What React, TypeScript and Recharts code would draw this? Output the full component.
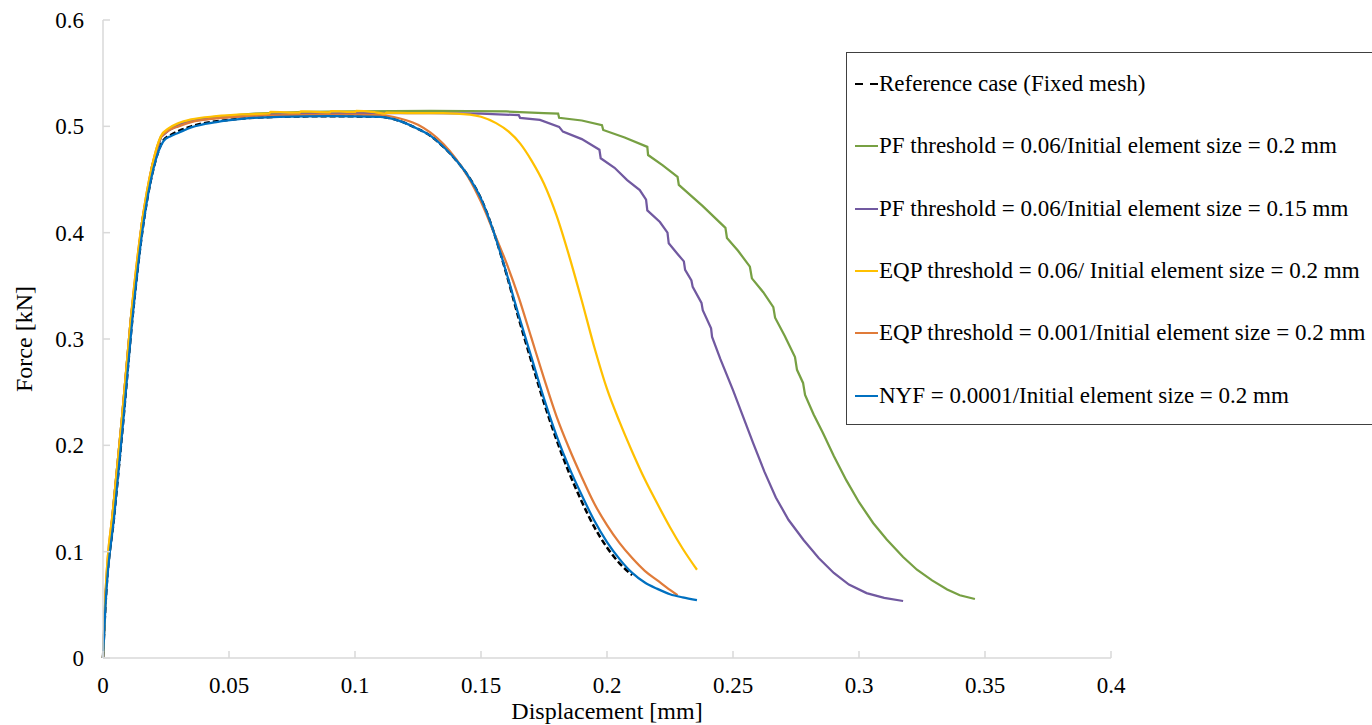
import { LineChart, Line, XAxis, YAxis, Legend } from 'recharts';

// [displacement mm, force kN]
const refFixed: [number, number][] = [
  [0, 0], [0.001, 0.05], [0.0045, 0.135], [0.008, 0.222], [0.0115, 0.315], [0.016, 0.408],
  [0.02, 0.46], [0.024, 0.487], [0.027, 0.492], [0.035, 0.5], [0.05, 0.506], [0.07, 0.509],
  [0.09, 0.5095], [0.11, 0.509], [0.115, 0.507], [0.12, 0.503], [0.125, 0.4975], [0.13, 0.491],
  [0.135, 0.481], [0.14, 0.4685], [0.145, 0.453], [0.15, 0.432], [0.155, 0.401], [0.16, 0.362],
  [0.165, 0.319], [0.17, 0.279], [0.175, 0.24], [0.18, 0.205], [0.185, 0.174], [0.19, 0.147],
  [0.195, 0.123], [0.2, 0.104], [0.205, 0.089], [0.21, 0.078],
];

const pf02: [number, number][] = [
  [0, 0], [0.0005, 0.03], [0.001, 0.06], [0.004, 0.14], [0.0075, 0.225], [0.011, 0.318],
  [0.0155, 0.41], [0.0195, 0.463], [0.023, 0.49], [0.026, 0.497], [0.03, 0.502], [0.035, 0.5055],
  [0.045, 0.509], [0.06, 0.512], [0.08, 0.5135], [0.1, 0.514], [0.13, 0.5145], [0.16, 0.514],
  [0.175, 0.5125], [0.1806, 0.512], [0.181, 0.508], [0.19, 0.5055], [0.198, 0.501], [0.1985, 0.4966],
  [0.207, 0.4895], [0.216, 0.4807], [0.2163, 0.473], [0.222, 0.4635], [0.228, 0.4525], [0.2285, 0.445],
  [0.238, 0.425], [0.247, 0.4045], [0.2476, 0.395], [0.252, 0.383], [0.2567, 0.368], [0.2575, 0.357],
  [0.262, 0.344], [0.266, 0.33], [0.2667, 0.32], [0.2705, 0.303], [0.2746, 0.283], [0.2754, 0.271],
  [0.2778, 0.2587], [0.2786, 0.2474], [0.282, 0.229], [0.2857, 0.2116], [0.29, 0.19], [0.295, 0.167],
  [0.3, 0.1465], [0.3056, 0.127], [0.311, 0.1115], [0.3175, 0.095], [0.323, 0.083], [0.329, 0.073],
  [0.335, 0.0645], [0.34, 0.059], [0.346, 0.0555],
];

const pf015: [number, number][] = [
  [0, 0], [0.0005, 0.03], [0.001, 0.06], [0.004, 0.14], [0.0075, 0.225], [0.011, 0.318],
  [0.0155, 0.41], [0.0195, 0.463], [0.023, 0.49], [0.026, 0.496], [0.03, 0.501], [0.035, 0.505],
  [0.045, 0.508], [0.065, 0.511], [0.1, 0.5125], [0.13, 0.5125], [0.15, 0.512], [0.165, 0.5105],
  [0.1655, 0.508], [0.1734, 0.506], [0.181, 0.4995], [0.1825, 0.495], [0.19, 0.488], [0.197, 0.478],
  [0.1975, 0.47], [0.203, 0.461], [0.208, 0.4495], [0.213, 0.44], [0.2155, 0.431], [0.216, 0.421],
  [0.221, 0.41], [0.224, 0.4], [0.2245, 0.39], [0.228, 0.38], [0.2305, 0.373], [0.231, 0.365],
  [0.2335, 0.355], [0.234, 0.349], [0.2375, 0.334], [0.238, 0.327], [0.2413, 0.31], [0.2417, 0.302],
  [0.245, 0.281], [0.25, 0.252], [0.254, 0.227], [0.258, 0.202], [0.2625, 0.175], [0.267, 0.151],
  [0.272, 0.13], [0.278, 0.111], [0.284, 0.094], [0.29, 0.08], [0.296, 0.069], [0.303, 0.061],
  [0.31, 0.0565], [0.3175, 0.0536],
];

const eqp006: [number, number][] = [
  [0, 0], [0.0005, 0.03], [0.001, 0.06], [0.004, 0.14], [0.0075, 0.225], [0.011, 0.318],
  [0.0155, 0.41], [0.0195, 0.463], [0.023, 0.491], [0.026, 0.498], [0.03, 0.503], [0.035, 0.5065],
  [0.045, 0.5095], [0.055, 0.5112], [0.066, 0.5122], [0.0665, 0.5135], [0.078, 0.5128],
  [0.0785, 0.514], [0.09, 0.5132], [0.0905, 0.5142], [0.1, 0.5135], [0.1005, 0.5145], [0.108, 0.5132],
  [0.112, 0.512], [0.1125, 0.513], [0.123, 0.5125], [0.135, 0.5125], [0.1456, 0.511], [0.15, 0.509],
  [0.156, 0.503], [0.161, 0.495], [0.1655, 0.484], [0.17, 0.468], [0.175, 0.446], [0.18, 0.416],
  [0.185, 0.378], [0.19, 0.336], [0.195, 0.292], [0.2, 0.253], [0.205, 0.222], [0.21, 0.194],
  [0.215, 0.168], [0.22, 0.145], [0.225, 0.123], [0.23, 0.103], [0.2357, 0.083],
];

const eqp0001: [number, number][] = [
  [0, 0], [0.0005, 0.03], [0.001, 0.06], [0.004, 0.14], [0.0075, 0.225], [0.011, 0.318],
  [0.0155, 0.41], [0.0195, 0.463], [0.023, 0.49], [0.026, 0.496], [0.03, 0.5], [0.035, 0.504],
  [0.045, 0.5075], [0.06, 0.5098], [0.08, 0.5108], [0.1, 0.511], [0.11, 0.5105], [0.115, 0.509],
  [0.12, 0.506], [0.125, 0.5015], [0.13, 0.494], [0.135, 0.4835], [0.14, 0.4695], [0.145, 0.452],
  [0.15, 0.429], [0.155, 0.401], [0.16, 0.372], [0.165, 0.339], [0.17, 0.301], [0.175, 0.263],
  [0.18, 0.227], [0.185, 0.197], [0.19, 0.17], [0.195, 0.145], [0.2, 0.125], [0.205, 0.108],
  [0.21, 0.094], [0.215, 0.082], [0.22, 0.073], [0.225, 0.064], [0.228, 0.059],
];

const nyf: [number, number][] = [
  [0, 0], [0.001, 0.05], [0.0045, 0.135], [0.008, 0.222], [0.0115, 0.315], [0.016, 0.408],
  [0.02, 0.46], [0.024, 0.486], [0.027, 0.491], [0.03, 0.494], [0.035, 0.499], [0.045, 0.504],
  [0.055, 0.507], [0.07, 0.509], [0.09, 0.5095], [0.11, 0.509], [0.115, 0.507], [0.12, 0.503],
  [0.125, 0.4975], [0.13, 0.491], [0.135, 0.481], [0.14, 0.4685], [0.145, 0.453], [0.15, 0.432],
  [0.155, 0.401], [0.16, 0.363], [0.165, 0.322], [0.17, 0.283], [0.175, 0.244], [0.18, 0.209],
  [0.185, 0.179], [0.19, 0.153], [0.195, 0.129], [0.2, 0.109], [0.205, 0.093], [0.21, 0.08],
  [0.215, 0.071], [0.22, 0.065], [0.225, 0.06], [0.23, 0.057], [0.2357, 0.0545],
];

const xTicks = [0, 0.05, 0.1, 0.15, 0.2, 0.25, 0.3, 0.35, 0.4];
const yTicks = [0, 0.1, 0.2, 0.3, 0.4, 0.5, 0.6];

const FONT = '"Liberation Serif", "Times New Roman", serif';

interface Series {
  name: string;
  points: [number, number][];
  color: string;
  dash?: string;
  curve: 'linear' | 'monotone';
}

// legend order
const series: Series[] = [
  { name: 'Reference case (Fixed mesh)', points: refFixed, color: '#000000', dash: '6 3', curve: 'monotone' },
  { name: 'PF threshold = 0.06/Initial element size = 0.2 mm', points: pf02, color: '#77a043', curve: 'linear' },
  { name: 'PF threshold = 0.06/Initial element size = 0.15 mm', points: pf015, color: '#7159a0', curve: 'linear' },
  { name: 'EQP threshold = 0.06/ Initial element size = 0.2 mm', points: eqp006, color: '#ffc000', curve: 'monotone' },
  { name: 'EQP threshold = 0.001/Initial element size = 0.2 mm', points: eqp0001, color: '#e07b39', curve: 'monotone' },
  { name: 'NYF = 0.0001/Initial element size = 0.2 mm', points: nyf, color: '#0070c0', curve: 'monotone' },
];

// bottom to top
const drawOrder = [0, 1, 2, 4, 3, 5];

function LegendBox() {
  return (
    <div
      style={{
        width: 530,
        height: 373,
        border: '1.5px solid #404040',
        boxSizing: 'border-box',
        background: '#fff',
        fontFamily: FONT,
        fontSize: 23,
        color: '#000',
      }}
    >
      {series.map(s => (
        <div key={s.name} style={{ height: 62.3, display: 'flex', alignItems: 'center', marginLeft: 8, whiteSpace: 'nowrap' }}>
          <svg width={24} height={6} style={{ flex: 'none' }}>
            <line x1={0} y1={3} x2={23} y2={3} stroke={s.color} strokeWidth={2} strokeDasharray={s.dash ? '8 7' : undefined} />
          </svg>
          <span>{s.name}</span>
        </div>
      ))}
    </div>
  );
}

export default function App() {
  return (
    <div style={{ position: 'absolute', left: 0, top: 0, background: '#fff' }}>
      <LineChart width={1372} height={725} margin={{ top: 20, right: 261, left: 0, bottom: 0 }}>
        <XAxis
          type="number"
          dataKey="x"
          domain={[0, 0.4]}
          ticks={xTicks}
          height={67}
          tickSize={-7}
          tickMargin={26}
          axisLine={{ stroke: '#d9d9d9', strokeWidth: 1.5 }}
          tickLine={{ stroke: '#d9d9d9', strokeWidth: 1.5 }}
          tick={{ fill: '#000', fontSize: 23, fontFamily: FONT }}
          label={{ value: 'Displacement [mm]', position: 'insideBottom', offset: 6, fill: '#000', fontSize: 24, fontFamily: FONT }}
        />
        <YAxis
          type="number"
          domain={[0, 0.6]}
          ticks={yTicks}
          width={103}
          tickSize={-7}
          tickMargin={26}
          axisLine={{ stroke: '#d9d9d9', strokeWidth: 1.5 }}
          tickLine={{ stroke: '#d9d9d9', strokeWidth: 1.5 }}
          tick={{ fill: '#000', fontSize: 23, fontFamily: FONT }}
          label={{ value: 'Force [kN]', angle: -90, position: 'insideLeft', offset: 23, fill: '#000', fontSize: 24, fontFamily: FONT, style: { textAnchor: 'middle' } }}
        />
        <Legend
          layout="horizontal"
          verticalAlign="middle"
          align="center"
          content={() => <LegendBox />}
          wrapperStyle={{ left: 846, top: 52, width: 530, height: 373 }}
        />
        {drawOrder.map(i => {
          const s = series[i];
          return (
            <Line
              key={s.name}
              data={s.points.map(([x, y]) => ({ x, y }))}
              dataKey="y"
              name={s.name}
              type={s.curve}
              stroke={s.color}
              strokeWidth={s.dash ? 2.5 : 2.25}
              strokeDasharray={s.dash}
              dot={false}
              activeDot={false}
              isAnimationActive={false}
            />
          );
        })}
      </LineChart>
    </div>
  );
}
